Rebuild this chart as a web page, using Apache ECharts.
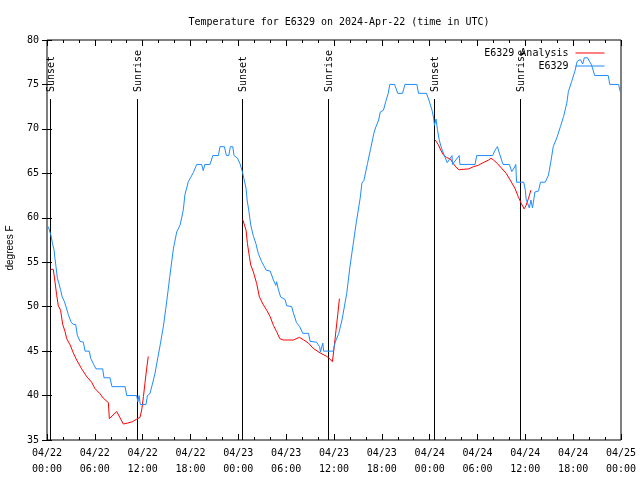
<!DOCTYPE html>
<html>
<head>
<meta charset="utf-8">
<script src="https://cdn.jsdelivr.net/npm/echarts@6/dist/echarts.min.js"></script>
<style>html,body{margin:0;padding:0;background:#fff}#c{width:640px;height:480px}</style>
</head>
<body>
<div id="c"></div>
<script>
// Hours since 2024-04-22 00:00 UTC
const titleText = 'Temperature for E6329 on 2024-Apr-22 (time in UTC)';
const yAxisName = 'degrees F';
const xTickLabels = ['04/22\n00:00','04/22\n06:00','04/22\n12:00','04/22\n18:00','04/23\n00:00','04/23\n06:00','04/23\n12:00','04/23\n18:00','04/24\n00:00','04/24\n06:00','04/24\n12:00','04/24\n18:00','04/25\n00:00'];
const seriesNames = ['E6329 Analysis', 'E6329'];

const obsHours = [0.17,0.5,0.71,0.88,1.0,1.13,1.3,1.5,1.7,1.9,2.17,2.38,2.68,3.0,3.3,3.6,3.8,4.14,4.56,4.77,5.3,5.48,5.8,6.15,6.98,7.15,7.9,8.15,9.8,10.0,11.25,11.4,11.55,11.7,12.42,12.6,12.9,13.2,13.55,13.85,14.2,14.6,14.9,15.2,15.4,15.85,16.27,16.7,17.1,17.3,17.74,18.0,18.36,18.78,19.4,19.6,19.8,20.45,20.8,21.5,21.7,22.25,22.5,22.8,23.0,23.3,23.46,23.9,24.2,24.5,24.7,24.97,25.1,25.3,25.55,25.9,26.2,26.5,26.9,27.5,28.0,28.4,28.7,28.8,29.0,29.3,29.86,30.07,30.7,30.9,31.3,31.7,32.08,32.8,33.0,33.8,34.2,34.3,34.6,34.7,35.9,36.15,36.6,37.0,37.6,38.0,38.4,38.8,39.3,39.5,39.75,40.2,40.6,41.0,41.2,41.6,41.8,42.2,42.5,42.8,43.0,43.6,44.0,44.6,44.9,46.4,46.6,47.6,47.9,48.3,48.5,48.6,48.8,48.98,49.2,49.5,49.8,50.2,50.36,50.8,50.86,51.7,51.8,53.7,53.9,55.9,56.2,56.5,56.8,57.2,58.0,58.3,58.6,58.8,58.9,59.8,60.0,60.1,60.3,60.5,60.7,60.9,61.2,61.65,61.9,62.5,62.9,63.2,63.5,63.95,64.4,64.8,65.2,65.4,65.8,66.25,66.5,66.9,67.2,67.4,67.8,68.3,68.7,70.4,70.6,71.7,71.9];
const obsTemps = [59,58,57,56.4,55.4,54.5,53.2,52.6,51.9,51.1,50.6,50,49.1,48.3,48,48,46.8,46.1,46,45,45,44.2,43.6,43,43,42,42,41,41,40,40,39.3,40,39,39,40,40.2,41.2,42.5,44,45.7,47.8,49.8,51.9,53.4,56.5,58.4,59.2,60.9,62.6,64.1,64.5,65.1,66,66,65.3,66,66,67,67,68,68,67,67,68,68,67,66.7,66.1,65.2,64.4,63.3,62,60.9,59.2,57.9,57.1,56,55.1,54.1,54,53,52.4,52.8,52,51.1,50.8,50.1,50,49.3,48.2,47.75,47,47,46.1,46,45.5,44.9,45.9,45,45,46,47,48.5,51.5,54.5,57,59.5,62.3,63.9,64.2,66.1,67.8,69.5,70.1,71,71.9,72.1,73.1,74,75,75,74,74,75,75,74,74,73.25,72.1,71.2,70.4,71.1,69.9,68.75,67.8,67.1,66.2,66,67,66,67,66,66,67,67,67.6,68,67.1,66,66,65.2,65.6,66,64,64,63.1,62.1,62.1,61.1,62,61.1,62.9,63,64,64,64.8,66.3,68,69,70.25,71.4,72.9,74.2,75.3,76.6,77.6,77.8,77.3,78,78,77.2,76,76,75,75,74.2];

const anaHours1 = [0.46,0.79,1.0,1.2,1.42,1.7,1.97,2.26,2.47,2.9,3.3,3.72,4.35,5.0,5.6,6.0,6.65,7.07,7.7,7.82,8.74,9.58,10.1,10.75,11.25,11.67,11.9,12.1,12.3,12.5,12.7];
const anaTemps1 = [54.2,54.2,52.8,51.4,50.1,49.6,48.0,47.2,46.4,45.7,44.8,44.0,43.0,42.1,41.5,40.8,40.2,39.7,39.2,37.4,38.2,36.8,36.9,37.07,37.35,37.55,38.5,39.9,41.5,43.0,44.4];
const anaHours2 = [24.55,24.76,24.97,25.14,25.39,25.55,25.89,26.3,26.64,27.14,27.56,27.98,28.4,28.8,29.2,29.65,30.9,31.66,32.2,32.8,33.4,34.25,35.1,35.5,35.8,36.0,36.26,36.47,36.68];
const anaTemps2 = [59.8,59.75,58.6,57.1,55.6,54.7,53.9,52.6,51.1,50.2,49.6,48.9,47.9,47.2,46.4,46.25,46.25,46.55,46.25,45.9,45.3,44.8,44.4,44.1,43.8,45.3,47.4,49.1,50.9];
const anaHours3 = [48.7,49.1,49.4,49.7,50.1,50.6,51.0,51.4,51.7,52.2,52.9,53.5,54.1,54.7,55.4,55.7,56.0,56.5,57.0,57.6,58.1,58.7,59.1,59.5,59.85,60.1,60.4,60.7];
const anaTemps3 = [68.75,68.2,67.6,67.1,66.8,66.6,66.05,65.6,65.4,65.45,65.5,65.75,65.9,66.2,66.5,66.7,66.5,66.1,65.6,65,64.25,63.3,62.4,61.6,61,61.4,62.2,63.1];

const sunEventHours = [0.41, 11.33, 24.47, 35.3, 48.6, 59.39];
const sunEventNames = ['Sunset','Sunrise','Sunset','Sunrise','Sunset','Sunrise'];

const zip = (a, b) => a.map((v, i) => [v, b[i]]);
const MONO = 'DejaVu Sans Mono';
const RED = '#ff0000', BLUE = '#1e8cff';

const chart = echarts.init(document.getElementById('c'), null, {renderer: 'canvas'});

function redSeries(h, t) {
  return {
    name: seriesNames[0], type: 'line', data: zip(h, t), symbol: 'none', showSymbol: false,
    lineStyle: {color: RED, width: 1}, itemStyle: {color: RED}, z: 4, silent: true
  };
}

const axisTickStyle = {lineStyle: {color: '#000', width: 1}};
const legendCommon = {
  right: 30, align: 'right', itemWidth: 29, itemHeight: 10, selectedMode: false,
  itemStyle: {opacity: 0, borderWidth: 0},
  lineStyle: {width: 1},
  textStyle: {fontFamily: MONO, fontSize: 10, color: '#000', padding: [0, 2, 0, 0]}
};

const option = {
  animation: false,
  backgroundColor: '#fff',
  title: {
    text: titleText, left: 334, top: 12, textAlign: 'center',
    textStyle: {fontFamily: MONO, fontSize: 10, fontWeight: 'normal', color: '#000'}
  },
  legend: [
    Object.assign({data: [seriesNames[0]], top: 43}, legendCommon),
    Object.assign({data: [seriesNames[1]], top: 56}, legendCommon)
  ],
  grid: {left: 47, right: 19, top: 40, bottom: 40, containLabel: false, outerBoundsMode: 'none',
         show: true, borderColor: '#000', borderWidth: 1, backgroundColor: 'transparent'},
  xAxis: [
    {type: 'value', min: 0, max: 72, interval: 6, position: 'bottom',
     axisLine: {show: false}, splitLine: {show: false},
     axisTick: {show: true, inside: true, length: 6, ...axisTickStyle},
     minorTick: {show: true, splitNumber: 3, length: 3, lineStyle: {color: '#000', width: 1}},
     axisLabel: {formatter: v => xTickLabels[Math.round(v / 6)], fontFamily: MONO, fontSize: 10, lineHeight: 16, margin: 5, color: '#000', showMinLabel: true, showMaxLabel: true}},
    {type: 'value', min: 0, max: 72, interval: 6, position: 'top',
     axisLine: {show: false}, splitLine: {show: false},
     axisTick: {show: true, inside: true, length: 6, ...axisTickStyle},
     minorTick: {show: true, splitNumber: 3, length: 3, lineStyle: {color: '#000', width: 1}},
     axisLabel: {show: false}}
  ],
  yAxis: [
    {type: 'value', min: 35, max: 80, interval: 5, position: 'left',
     axisLine: {show: false}, splitLine: {show: false},
     axisTick: {show: true, inside: true, length: 5, ...axisTickStyle},
     axisLabel: {fontFamily: MONO, fontSize: 10, color: '#000', margin: 8},
     name: yAxisName, nameLocation: 'middle', nameRotate: 90, nameGap: 32,
     nameTextStyle: {fontFamily: 'Liberation Sans', fontSize: 10, color: '#000', padding: [0, 16, 0, 0]}},
    {type: 'value', min: 35, max: 80, interval: 5, position: 'right',
     axisLine: {show: false}, splitLine: {show: false},
     axisTick: {show: true, inside: true, length: 5, ...axisTickStyle},
     axisLabel: {show: false}}
  ],
  series: [
    {
      type: 'custom', silent: true, z: 3,
      data: sunEventHours.map((h, i) => [h, i]),
      renderItem: function (params, api) {
        const h = api.value(0);
        const idx = api.value(1);
        const top = api.coord([h, 73.36]);
        const bottom = api.coord([h, 35]);
        const lab = api.coord([h, 74.15]);
        return {
          type: 'group',
          children: [
            {type: 'line', shape: {x1: Math.round(top[0]) + 0.5, y1: top[1], x2: Math.round(top[0]) + 0.5, y2: bottom[1]},
             style: {stroke: '#000', lineWidth: 1}},
            {type: 'text', x: Math.round(lab[0]) + 1.5, y: lab[1], rotation: Math.PI / 2,
             style: {text: sunEventNames[idx], fill: '#000', font: '10px ' + MONO, align: 'left', verticalAlign: 'middle'}}
          ]
        };
      }
    },
    redSeries(anaHours1, anaTemps1),
    redSeries(anaHours2, anaTemps2),
    redSeries(anaHours3, anaTemps3),
    {
      name: seriesNames[1], type: 'line', data: zip(obsHours, obsTemps), symbol: 'none', showSymbol: false,
      lineStyle: {color: BLUE, width: 1}, itemStyle: {color: BLUE}, z: 5, silent: true
    }
  ]
};
chart.setOption(option);
</script>
</body>
</html>
